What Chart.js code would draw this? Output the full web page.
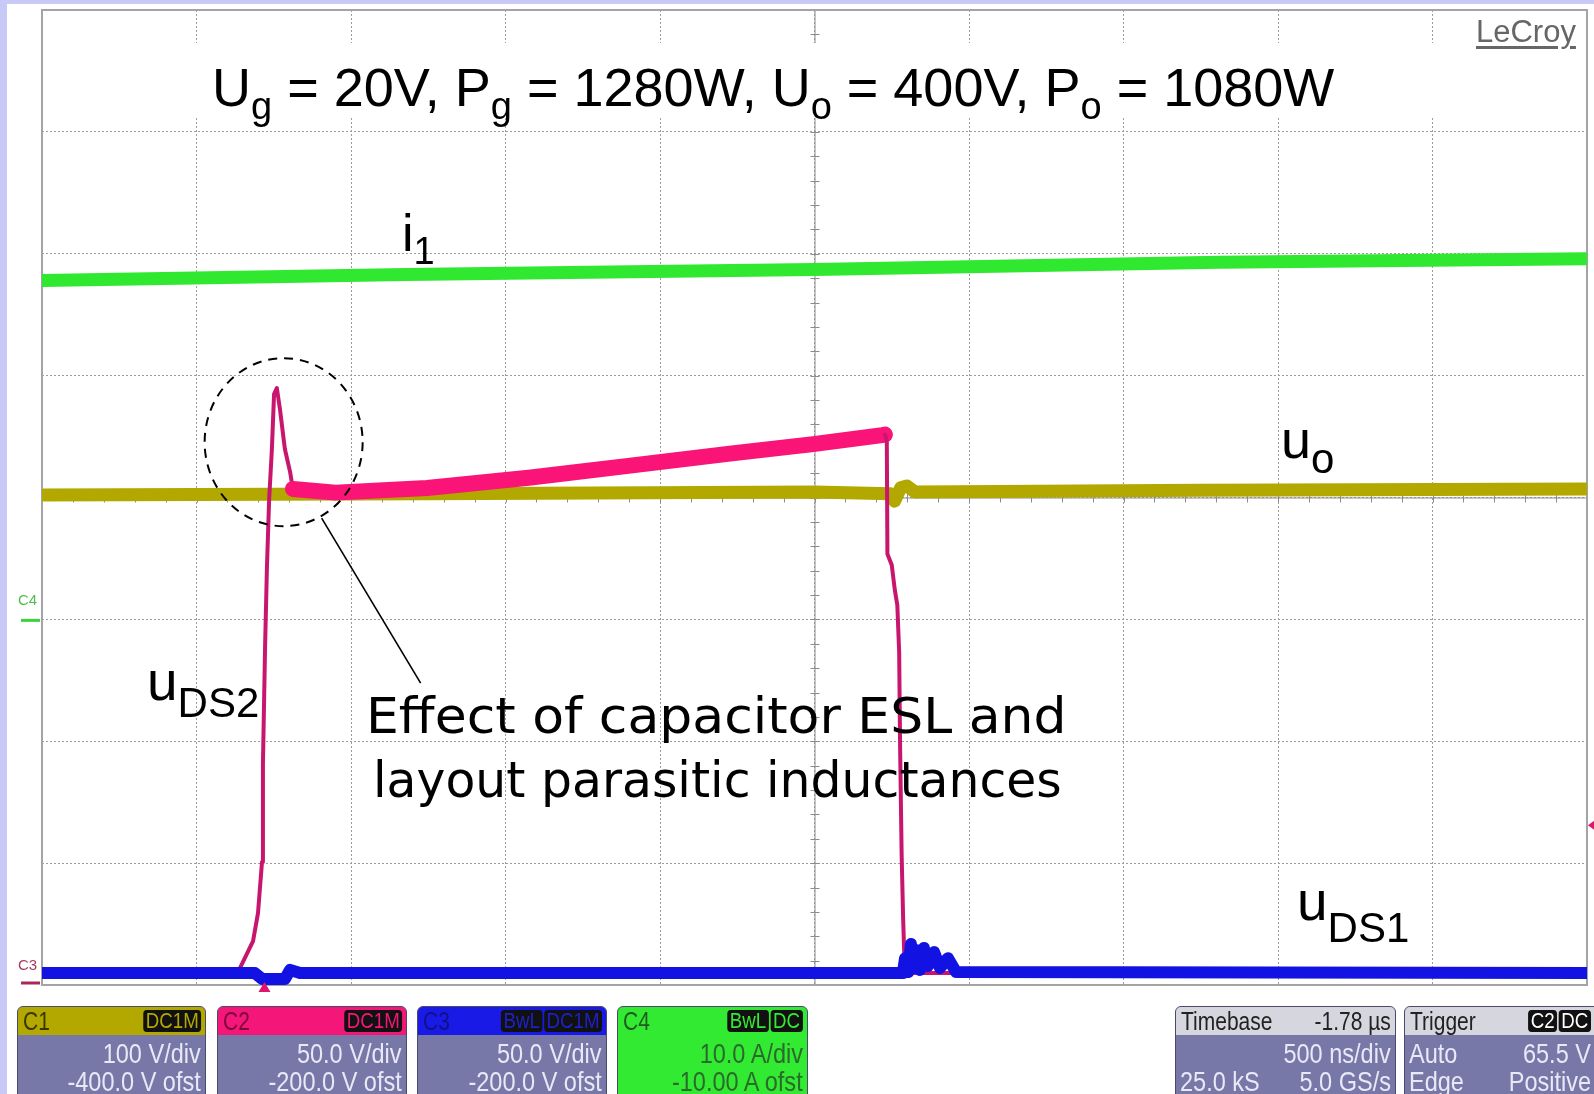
<!DOCTYPE html>
<html lang="en">
<head>
<meta charset="UTF-8">
<title>u_DS1, u_DS2, u_o, i1 - LeCroy capture</title>
<script src="https://cdn.jsdelivr.net/npm/chart.js"></script>
<style>
  body { margin: 0; background: #fff; }
  #page { position: relative; width: 1594px; height: 1094px; overflow: hidden; background: #fff;
          font-family: "Liberation Sans", Arial, sans-serif; }
  #chart { position: absolute; left: 0; top: 0; }
  .frame { position: absolute; background: #c9c9f7; }
  .lbl { position: absolute; white-space: nowrap; line-height: 1; color: #000; }
  .lbl sub { vertical-align: baseline; position: relative; }
  #titlebox { position: absolute; left: 43px; top: 43px; width: 1543px; height: 75px; background: #fff; }
  .note { position: absolute; white-space: nowrap; line-height: 1; font-family: "Comic Sans MS", "DejaVu Sans", sans-serif;
          font-size: 50px; transform-origin: 0 0; }
  #logo { position: absolute; left: 1476px; top: 14px; font-size: 31px; color: #666; text-decoration: underline;
          text-decoration-thickness: 3px; text-underline-offset: 4px; }
  .chn { position: absolute; font-size: 15px; line-height: 1; }
  .desc { position: absolute; top: 1006px; height: 100px; background: #7878a8; border: 1px solid #4a4a6a;
          border-radius: 6px; overflow: hidden; color: #e8e8f6; box-sizing: border-box; white-space: nowrap; }
  .desc .hd { height: 28px; position: relative; font-size: 25px; line-height: 28px; padding-left: 5px; }
  .desc .bds { position: absolute; right: 4px; top: 3px; display: flex; gap: 2px;
               transform: scaleX(.85); transform-origin: 100% 50%; }
  .desc .bd { height: 22px; line-height: 22px; font-size: 22px; background: #111; border-radius: 4px; padding: 0 3px; }
  .desc .body { padding-top: 5px; }
  .desc .ln { font-size: 28px; line-height: 28px; text-align: right; padding-right: 4px; position: relative; height: 28px; }
  .sl { display: inline-block; transform: scaleX(.84); transform-origin: 0 50%; }
  .sr { display: inline-block; transform: scaleX(.84); transform-origin: 100% 50%; }
  .desc .ln .sl { position: absolute; left: 4px; top: 0; }
  .desc .hd .sr { position: absolute; right: 4px; top: 0; }
</style>
</head>
<body>
<div id="page">
  <canvas id="chart" width="1594" height="1094"></canvas>

  <div class="frame" style="left:0;top:0;width:1594px;height:4px"></div>
  <div class="frame" style="left:0;top:0;width:7px;height:1094px"></div>

  <div id="titlebox"></div>
  <div id="logo">LeCroy</div>

  <div class="lbl" id="title" style="left:212px;top:60px;font-size:54px">U<sub style="font-size:38px;top:13px">g</sub> = 20V, P<sub style="font-size:38px;top:13px">g</sub> = 1280W, U<sub style="font-size:38px;top:13px">o</sub> = 400V, P<sub style="font-size:38px;top:13px">o</sub> = 1080W</div>

  <div class="lbl" style="left:402px;top:207px;font-size:52px">i<sub style="font-size:38px;top:13px">1</sub></div>
  <div class="lbl" style="left:1281px;top:412px;font-size:54px">u<sub style="font-size:42px;top:15px">o</sub></div>
  <div class="lbl" style="left:147px;top:654px;font-size:55px">u<sub style="font-size:42px;top:17px">DS2</sub></div>
  <div class="lbl" style="left:1297px;top:874px;font-size:55px">u<sub style="font-size:42px;top:22px">DS1</sub></div>

  <div class="note" data-w="701" style="left:366px;top:691px">Effect of capacitor ESL and</div>
  <div class="note" data-w="689" style="left:373px;top:755px">layout parasitic inductances</div>

  <div class="chn" style="left:18px;top:592px;color:#4cc04c">C4</div>
  <div class="chn" style="left:18px;top:957px;color:#a83a64">C3</div>

  <div class="desc" style="left:17px;width:189px">
    <div class="hd" style="background:#b3a800;color:#3a3600"><span class="sl">C1</span>
      <div class="bds"><span class="bd" style="color:#b3a800">DC1M</span></div></div>
    <div class="body"><div class="ln"><span class="sr">100 V/div</span></div><div class="ln"><span class="sr">-400.0 V ofst</span></div></div>
  </div>
  <div class="desc" style="left:217px;width:190px">
    <div class="hd" style="background:#f5167a;color:#7a0a3c"><span class="sl">C2</span>
      <div class="bds"><span class="bd" style="color:#f5167a">DC1M</span></div></div>
    <div class="body"><div class="ln"><span class="sr">50.0 V/div</span></div><div class="ln"><span class="sr">-200.0 V ofst</span></div></div>
  </div>
  <div class="desc" style="left:417px;width:190px">
    <div class="hd" style="background:#1a1ae6;color:#10108a"><span class="sl">C3</span>
      <div class="bds"><span class="bd" style="color:#2020c8">BwL</span><span class="bd" style="color:#2020c8">DC1M</span></div></div>
    <div class="body"><div class="ln"><span class="sr">50.0 V/div</span></div><div class="ln"><span class="sr">-200.0 V ofst</span></div></div>
  </div>
  <div class="desc" style="left:617px;width:191px;background:#33ea33;color:#2a6a2a">
    <div class="hd" style="color:#1f5a1f"><span class="sl">C4</span>
      <div class="bds"><span class="bd" style="color:#33ea33">BwL</span><span class="bd" style="color:#33ea33">DC</span></div></div>
    <div class="body"><div class="ln"><span class="sr">10.0 A/div</span></div><div class="ln"><span class="sr">-10.00 A ofst</span></div></div>
  </div>
  <div class="desc" style="left:1175px;width:221px">
    <div class="hd" style="background:#d6d6de;color:#222"><span class="sl">Timebase</span><span class="sr">-1.78 µs</span></div>
    <div class="body"><div class="ln"><span class="sr">500 ns/div</span></div><div class="ln"><span class="sl">25.0 kS</span><span class="sr">5.0 GS/s</span></div></div>
  </div>
  <div class="desc" style="left:1404px;width:200px">
    <div class="hd" style="background:#d6d6de;color:#222"><span class="sl">Trigger</span>
      <div class="bds" style="right:12px"><span class="bd" style="color:#fff">C2</span><span class="bd" style="color:#fff">DC</span></div></div>
    <div class="body"><div class="ln" style="padding-right:12px"><span class="sl">Auto</span><span class="sr">65.5 V</span></div><div class="ln" style="padding-right:12px"><span class="sl">Edge</span><span class="sr">Positive</span></div></div>
  </div>
</div>

<script>
// time axis: µs from the left edge of the screen (500 ns/div, 10 div)
// C1  u_o    100 V/div, -400 V ofst  -> 0..800 V
const uoTime  = [0, 1.25, 2.5, 2.746, 2.759, 2.779, 2.799, 2.825, 3.75, 5];
const uoVolts = [402, 403, 404.5, 403, 397, 408, 409.5, 404.5, 406, 407];

// C2  u_DS2  50 V/div, -200 V ofst  -> 0..400 V
const uds2Time  = [0, 0.618, 0.641, 0.683, 0.699, 0.712, 0.715, 0.722, 0.728, 0.735, 0.744, 0.751, 0.760,
                   0.770, 0.786, 0.803, 0.812, 0.950, 1.246, 1.575, 1.904, 2.233, 2.496, 2.719, 2.728, 2.734,
                   2.736, 2.750, 2.760, 2.768, 2.774, 2.777, 2.782, 2.787, 2.791, 2.796, 5];
const uds2Volts = [4.9, 4.9, 7.0, 18.0, 29.5, 50.5, 90.7, 139.1, 171.5, 199.0, 219.9, 242.4, 244.9,
                   236.3, 219.9, 210.4, 203.5, 202.0, 203.9, 208.1, 213.1, 218.1, 221.9, 225.6, 225.8, 222.9,
                   176.8, 172.3, 162.0, 155.9, 136.6, 98.0, 53.3, 26.7, 10.3, 4.9, 4.9];

// C3  u_DS1  50 V/div, -200 V ofst  -> 0..400 V
const uds1Time  = [0, 0.689, 0.712, 0.786, 0.803, 0.835, 2.786, 2.793, 2.803, 2.812, 2.822, 2.828, 2.841,
                   2.854, 2.867, 2.887, 2.906, 2.932, 2.958, 5];
const uds1Volts = [4.9, 4.9, 2.5, 2.5, 6.2, 4.9, 4.9, 11, 5.3, 16.8, 7, 14.4, 6.2,
                   15.2, 7.8, 13.5, 7, 11, 5.3, 4.9];

// C4  i1     10 A/div, -10 A ofst   -> -30..50 A
const i1Time = [0, 1.18, 2.5, 3.81, 5];
const i1Amps = [27.8, 28.3, 28.7, 29.3, 29.6];

const triggerTime = 2.5 - 1.78;   // timebase -1.78 µs
const triggerLevel = 65.5;        // V on C2

const pts = (xs, ys) => xs.map((x, i) => ({ x, y: ys[i] }));

const gridColor = '#9c9c9c';

const scopeFrame = {
  id: 'scopeFrame',
  beforeDatasetsDraw(chart) {
    const { ctx, chartArea: a, scales } = chart;
    const x = scales.x, y = scales.yC1;
    const cx = x.getPixelForValue(2.5), cy = y.getPixelForValue(400);
    ctx.save();
    ctx.strokeStyle = '#8c8c8c';
    ctx.lineWidth = 1;
    ctx.beginPath();
    ctx.moveTo(cx + 0.5, a.top); ctx.lineTo(cx + 0.5, a.bottom);
    ctx.moveTo(a.left, cy + 0.5); ctx.lineTo(a.right, cy + 0.5);
    for (let k = 0; k <= 50; k++) {
      const px = Math.round(x.getPixelForValue(k * 0.1)) + 0.5;
      ctx.moveTo(px, cy - 4); ctx.lineTo(px, cy + 5);
    }
    for (let k = 0; k <= 40; k++) {
      const py = Math.round(y.getPixelForValue(k * 20)) + 0.5;
      ctx.moveTo(cx - 4, py); ctx.lineTo(cx + 5, py);
    }
    ctx.stroke();
    ctx.strokeStyle = '#a4a4a4';
    ctx.lineWidth = 2;
    ctx.strokeRect(a.left, a.top, a.right - a.left, a.bottom - a.top);
    ctx.restore();
  },
  afterDatasetsDraw(chart) {
    const { ctx, chartArea: a, scales } = chart;
    const x = scales.x;
    // dashed circle round the turn-on overshoot
    const ox = x.getPixelForValue(0.782), oy = scales.yC2.getPixelForValue(222.7);
    ctx.save();
    ctx.strokeStyle = '#000';
    ctx.lineWidth = 2;
    ctx.setLineDash([9, 7]);
    ctx.beginPath();
    ctx.ellipse(ox, oy, 79, 84, 0, 0, Math.PI * 2);
    ctx.stroke();
    ctx.setLineDash([]);
    ctx.lineWidth = 1.6;
    ctx.beginPath();
    ctx.moveTo(ox + 38, oy + 76);
    ctx.lineTo(ox + 137, oy + 241);
    ctx.stroke();

    // trigger position / level markers
    ctx.fillStyle = '#e0156e';
    const tx = x.getPixelForValue(triggerTime);
    ctx.beginPath();
    ctx.moveTo(tx, a.bottom - 3); ctx.lineTo(tx - 6, a.bottom + 7); ctx.lineTo(tx + 6, a.bottom + 7);
    ctx.closePath(); ctx.fill();
    const ty = scales.yC2.getPixelForValue(triggerLevel);
    ctx.beginPath();
    ctx.moveTo(a.right + 1, ty); ctx.lineTo(a.right + 9, ty - 6); ctx.lineTo(a.right + 9, ty + 6);
    ctx.closePath(); ctx.fill();

    // channel ground markers on the left
    ctx.lineWidth = 3;
    ctx.strokeStyle = '#3cd23c';
    const g4 = scales.yC4.getPixelForValue(0);
    ctx.beginPath(); ctx.moveTo(21, g4 + 1); ctx.lineTo(40, g4 + 1); ctx.stroke();
    ctx.strokeStyle = '#a8285c';
    const g3 = scales.yC3.getPixelForValue(0);
    ctx.beginPath(); ctx.moveTo(21, g3 - 2); ctx.lineTo(40, g3 - 2); ctx.stroke();
    ctx.restore();
  }
};

const steep = c => {
  const dv = Math.abs(c.p1.parsed.y - c.p0.parsed.y);
  const dt = Math.abs(c.p1.parsed.x - c.p0.parsed.x) || 1e-9;
  return dv / dt > 150 || Math.max(c.p0.parsed.y, c.p1.parsed.y) < 10;
};

const ctx = document.getElementById('chart').getContext('2d');
new Chart(ctx, {
  type: 'line',
  data: {
    datasets: [
      { label: 'u_DS1 (C3)', data: pts(uds1Time, uds1Volts), yAxisID: 'yC3',
        borderColor: '#1212e2', borderWidth: 12 },
      { label: 'u_DS2 (C2)', data: pts(uds2Time, uds2Volts), yAxisID: 'yC2',
        borderColor: '#fa1478', borderWidth: 16, borderCapStyle: 'round',
        segment: {
          borderWidth: c => steep(c) ? 4 : 16,
          borderColor: c => steep(c) ? '#c8166f' : '#fa1478'
        } },
      { label: 'u_o (C1)', data: pts(uoTime, uoVolts), yAxisID: 'yC1',
        borderColor: '#b3a800', borderWidth: 13 },
      { label: 'i1 (C4)', data: pts(i1Time, i1Amps), yAxisID: 'yC4',
        borderColor: '#30e830', borderWidth: 13 }
    ]
  },
  options: {
    responsive: false,
    animation: false,
    elements: {
      point: { radius: 0 },
      line: { tension: 0, fill: false, borderJoinStyle: 'round' }
    },
    plugins: { legend: { display: false }, tooltip: { enabled: false } },
    layout: { padding: { left: 42, top: 10, right: 7, bottom: 109 } },
    scales: {
      x: {
        type: 'linear', min: 0, max: 5,
        ticks: { display: false, stepSize: 0.5 },
        grid: { color: gridColor, lineWidth: 1, drawTicks: false },
        border: { display: false, dash: [2, 2] }
      },
      yC1: {
        position: 'left', min: 0, max: 800,
        ticks: { display: false, stepSize: 100 },
        grid: { color: gridColor, lineWidth: 1, drawTicks: false },
        border: { display: false, dash: [2, 2] }
      },
      yC2: { display: false, min: 0, max: 400 },
      yC3: { display: false, min: 0, max: 400 },
      yC4: { display: false, min: -30, max: 50 }
    }
  },
  plugins: [scopeFrame]
});

// stretch the annotation lines to the width they take in the capture
document.querySelectorAll('.note').forEach(el => {
  const w = +el.dataset.w;
  el.style.transform = 'scaleX(' + (w / el.offsetWidth).toFixed(3) + ')';
});
</script>
</body>
</html>
